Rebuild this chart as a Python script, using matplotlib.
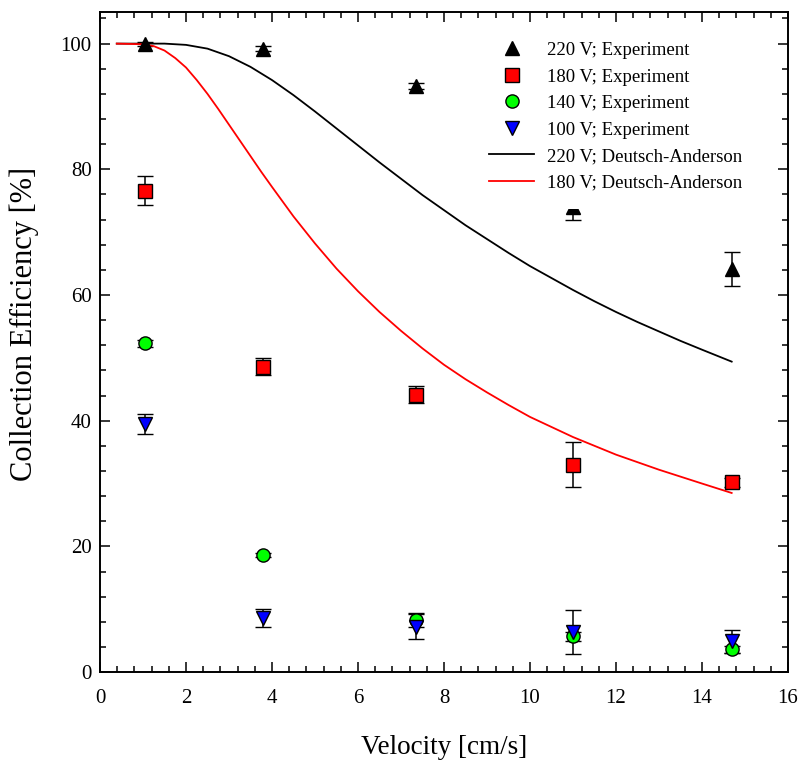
import numpy as np
import matplotlib
matplotlib.use("Agg")
import matplotlib.pyplot as plt
from matplotlib.ticker import MultipleLocator

plt.rcParams['font.family'] = ['Liberation Serif', 'DejaVu Serif']

# measured points (velocity in cm/s, efficiency in %)
velocity = [1.05, 3.78, 7.35, 11.0, 14.7]

eff_220 = [100.0, 99.2, 93.2, 74.0, 64.2]
err_220 = [0.3, 0.4, 0.5, 2.0, 2.7]

eff_180 = [76.6, 48.6, 44.1, 33.0, 30.2]
err_180 = [2.3, 1.4, 1.35, 3.6, 0.7]

eff_140 = [52.3, 18.6, 8.3, 5.7, 3.6]
err_140 = [0.5, 0.3, 1.1, 0.7, 0.6]

eff_100 = [39.5, 8.6, 7.2, 6.4, 4.9]
err_100 = [1.6, 1.4, 2.0, 3.5, 1.8]

# Deutsch-Anderson model curves
da_v_220 = [0.39, 1.0, 1.5, 2.0, 2.5, 3.0, 3.5, 4.0, 4.5, 5.0, 5.5, 6.0, 6.5, 7.0,
            7.5, 8.0, 8.5, 9.0, 9.5, 10.0, 10.5, 11.0, 11.5, 12.0, 12.5, 13.0,
            13.5, 14.0, 14.69]
da_eff_220 = [100.0, 100.0, 100.0, 99.8, 99.2, 98.0, 96.3, 94.2, 91.8, 89.2, 86.5,
              83.8, 81.1, 78.5, 75.9, 73.5, 71.1, 68.9, 66.7, 64.6, 62.7, 60.8,
              59.0, 57.3, 55.7, 54.2, 52.7, 51.3, 49.4]

da_v_180 = [0.39, 1.0, 1.25, 1.5, 1.75, 2.0, 2.25, 2.5, 2.75, 3.0, 3.25, 3.5, 3.75,
            4.0, 4.5, 5.0, 5.5, 6.0, 6.5, 7.0, 7.5, 8.0, 8.5, 9.0, 9.5, 10.0,
            10.5, 11.0, 11.5, 12.0, 12.5, 13.0, 13.5, 14.0, 14.69]
da_eff_180 = [100.0, 99.9, 99.6, 98.9, 97.7, 96.2, 94.2, 92.0, 89.6, 87.1, 84.6,
              82.1, 79.6, 77.2, 72.5, 68.2, 64.2, 60.6, 57.3, 54.3, 51.5, 48.9,
              46.6, 44.5, 42.5, 40.6, 39.0, 37.4, 36.0, 34.6, 33.4, 32.2, 31.1,
              30.0, 28.5]

fig = plt.figure(figsize=(8, 7.62), dpi=100)
ax = fig.add_axes([0.125, 0.118, 0.86, 0.866])

eb_kw = dict(ls='none', ecolor='black', elinewidth=1.1, capsize=6, capthick=1.1,
             markeredgecolor='black', markeredgewidth=1.0)

e220 = ax.errorbar(velocity, eff_220, yerr=err_220, fmt='^', color='black', ms=10, **eb_kw)
e180 = ax.errorbar(velocity, eff_180, yerr=err_180, fmt='s', color='red', ms=10, **eb_kw)
e140 = ax.errorbar(velocity, eff_140, yerr=err_140, fmt='o', color='#00ff00', ms=9.5, **eb_kw)
e100 = ax.errorbar(velocity, eff_100, yerr=err_100, fmt='v', color='blue', ms=10, **eb_kw)

l220, = ax.plot(da_v_220, da_eff_220, color='black', lw=1.3)
l180, = ax.plot(da_v_180, da_eff_180, color='red', lw=1.3)

ax.set_xlim(0, 16)
ax.set_ylim(0, 105)
ax.xaxis.set_major_locator(MultipleLocator(2))
ax.xaxis.set_minor_locator(MultipleLocator(0.4))
ax.yaxis.set_major_locator(MultipleLocator(20))
ax.yaxis.set_minor_locator(MultipleLocator(4))
ax.tick_params(which='both', direction='in', top=True, right=True, width=1.1,
               labelsize=15)
ax.tick_params(which='major', length=7)
ax.tick_params(which='minor', length=4)
ax.tick_params(axis='x', pad=12)
ax.tick_params(axis='y', pad=6)
for sp in ax.spines.values():
    sp.set_linewidth(1.4)

ax.set_xlabel('Velocity [cm/s]', fontsize=19.5)
ax.set_ylabel('Collection Efficiency [%]', fontsize=22)
ax.xaxis.set_label_coords(0.5, -0.095)
ax.yaxis.set_label_coords(-0.088, 0.527)

# legend shows only the markers, experiments first
handles = [e220[0], e180[0], e140[0], e100[0], l220, l180]
labels = ['220 V; Experiment', '180 V; Experiment', '140 V; Experiment',
          '100 V; Experiment', '220 V; Deutsch-Anderson', '180 V; Deutsch-Anderson']
leg = ax.legend(handles, labels, loc='upper left', bbox_to_anchor=(0.540, 0.982),
                fontsize=13.5, frameon=True, fancybox=False, framealpha=1,
                edgecolor='none', borderpad=0.95, borderaxespad=0,
                handlelength=2.4, handletextpad=0.7, labelspacing=0.5)

fig.savefig('out.png', dpi=100)
